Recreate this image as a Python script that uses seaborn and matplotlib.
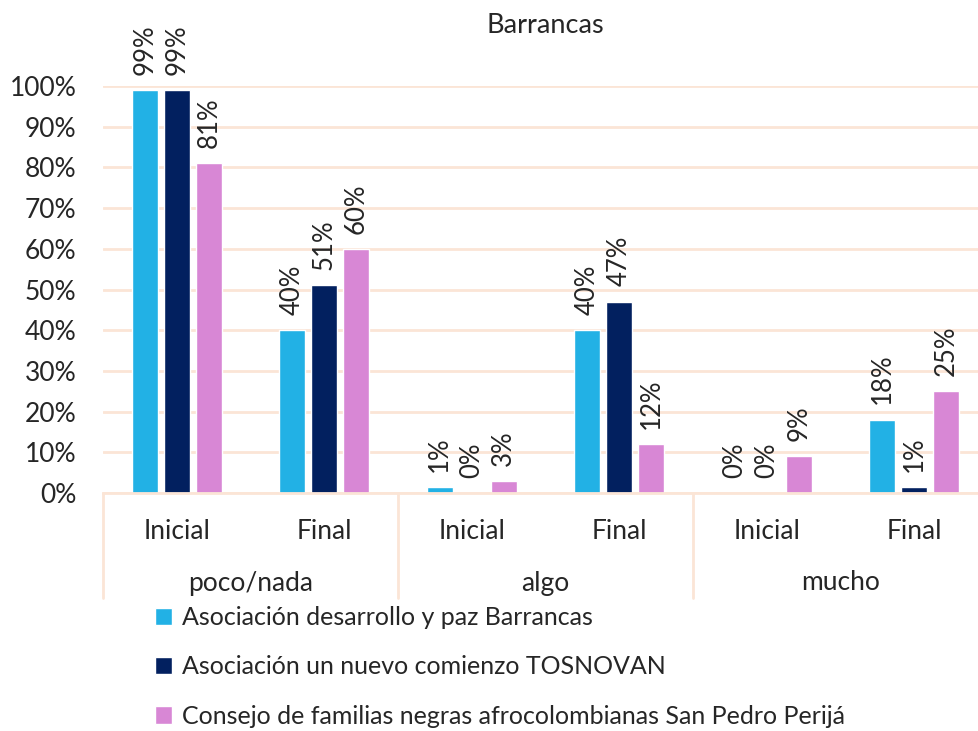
import numpy as np
import pandas as pd
import seaborn as sns
import matplotlib.pyplot as plt
from matplotlib.ticker import PercentFormatter
from matplotlib.transforms import blended_transform_factory

niveles = ["poco/nada", "algo", "mucho"]
momentos = ["Inicial", "Final"]
organizaciones = [
    "Asociación desarrollo y paz Barrancas",
    "Asociación un nuevo comienzo TOSNOVAN",
    "Consejo de familias negras afrocolombianas San Pedro Perijá",
]
# orden: poco/nada-Inicial, poco/nada-Final, algo-Inicial, algo-Final, mucho-Inicial, mucho-Final
desarrollo = [99, 40, 1.4, 40, 0, 18]
tosnovan = [99, 51, 0, 47, 0, 1.4]
consejo = [81, 60, 3, 12, 9, 25]
colores = ["#22B1E5", "#02205F", "#D887D5"]
rejilla = "#FBE5D6"

sns.set_style("white")
plt.rcParams["font.family"] = ["Lato", "DejaVu Sans"]

grupos = [f"{n}|{m}" for n in niveles for m in momentos]
filas = []
for org, vals in zip(organizaciones, [desarrollo, tosnovan, consejo]):
    for g, v in zip(grupos, vals):
        filas.append({"grupo": g, "org": org, "valor": v})
df = pd.DataFrame(filas)

fig = plt.figure(figsize=(9.79, 7.31), dpi=100)
ax = fig.add_axes([103 / 979, 1 - 493 / 731, 885 / 979, 407 / 731])

sns.barplot(data=df, x="grupo", y="valor", hue="org", order=grupos,
            hue_order=organizaciones, palette=colores, width=0.651, gap=0.1875,
            errorbar=None, saturation=1, ax=ax)

handles, labels = ax.get_legend_handles_labels()
ax.legend_.remove()

for cont in ax.containers:
    ax.bar_label(cont, labels=[f"{round(b.get_height())}%" for b in cont],
                 rotation=90, padding=11, fontsize=18.5, clip_on=False)

ax.set_xlim(-0.5, 5.5)
ax.set_ylim(0, 100)
ax.set_yticks(np.arange(0, 101, 10))
ax.yaxis.set_major_formatter(PercentFormatter(100, decimals=0))
ax.set_xticks(range(len(grupos)))
ax.set_xticklabels([g.split("|")[1] for g in grupos])
ax.tick_params(axis="y", length=0, pad=19, labelsize=19)
ax.tick_params(axis="x", length=0, pad=19, labelsize=19)
ax.set_xlabel("")
ax.set_ylabel("")
ax.yaxis.grid(True, color=rejilla, lw=2)
ax.set_axisbelow(True)
for s in ["top", "right", "left"]:
    ax.spines[s].set_visible(False)
ax.spines["bottom"].set_color(rejilla)
ax.spines["bottom"].set_linewidth(2)

trans = blended_transform_factory(ax.transData, ax.transAxes)
for xs in [-0.5, 1.5, 3.5, 5.5]:
    ax.plot([xs, xs], [0, -105 / 407], color=rejilla, lw=2, transform=trans, clip_on=False)
for i, n in enumerate(niveles):
    ax.text(2 * i + 0.5, -90 / 407, n, transform=trans, ha="center", va="center", fontsize=19)

ax.text(0.5, 1 + 60 / 407, "Barrancas", transform=ax.transAxes, ha="center", va="center", fontsize=19.5)

fig.legend(handles, labels, loc="upper left", bbox_to_anchor=(155 / 979, 1 - 606 / 731),
           frameon=False, fontsize=18, handlelength=0.7, handleheight=0.7,
           handletextpad=0.4, labelspacing=1.05, borderaxespad=0, borderpad=0)

fig.savefig("out.png", dpi=100)
